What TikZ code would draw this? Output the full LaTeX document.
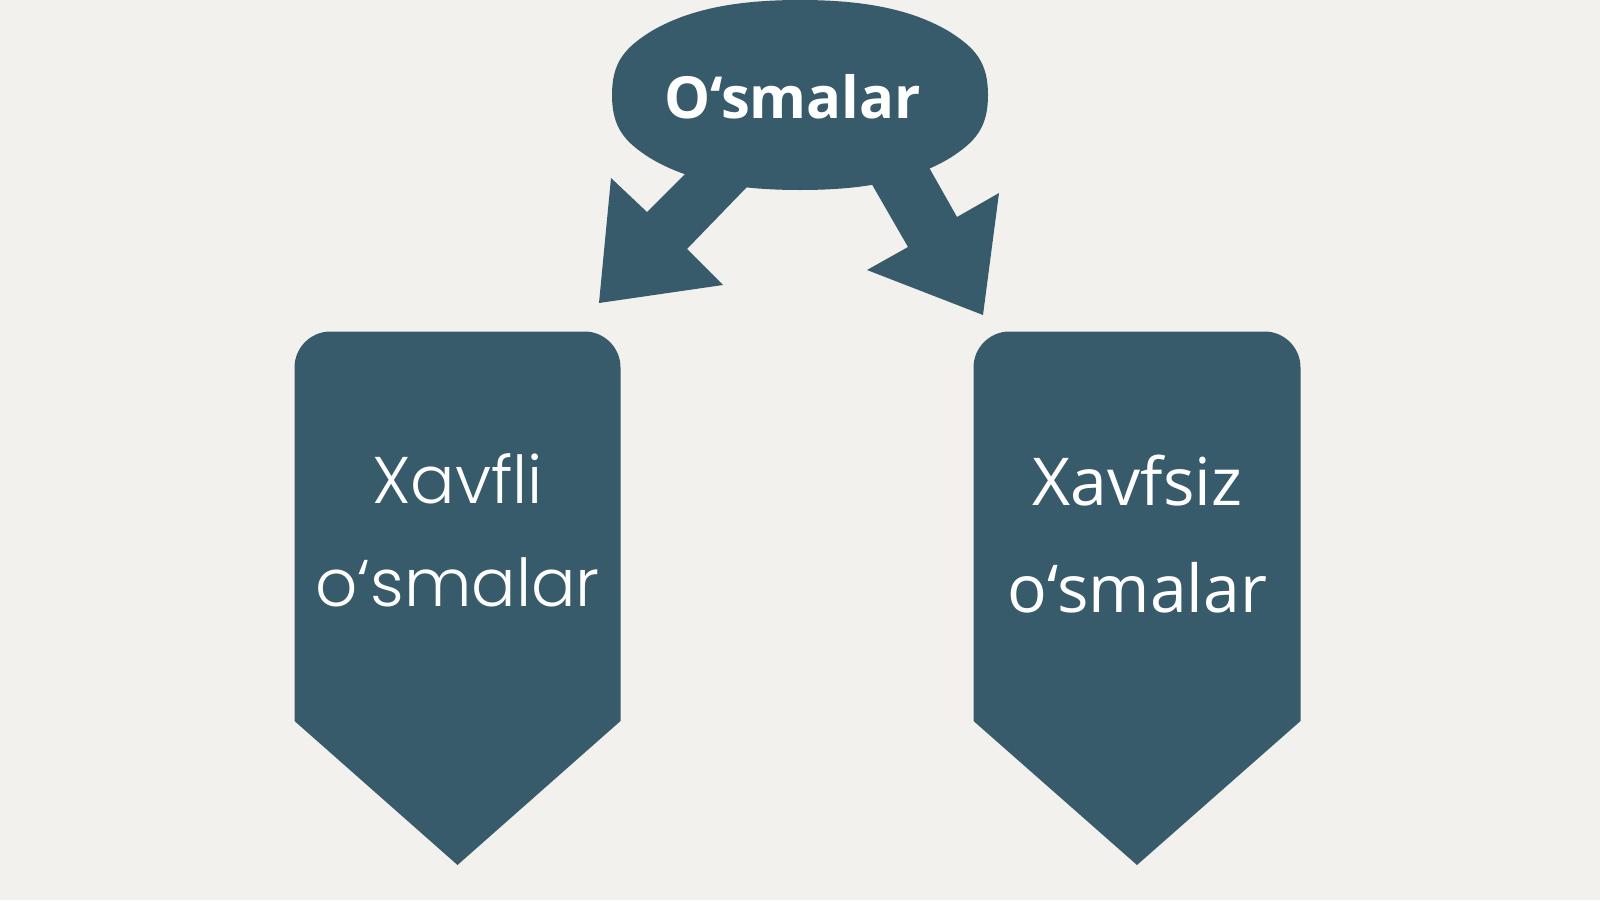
\documentclass[tikz,border=0pt]{standalone}
\usepackage{fontspec}
\setmainfont{Open Sans}
\newfontfamily\popfont{Poppins}[UprightFont=* Light]
\newfontfamily\opfont{Open Sans}
\definecolor{bgcol}{HTML}{F3F1ED}
\definecolor{teal}{HTML}{385B6C}
\tikzset{
  toptext/.style={text=white, inner sep=0pt, anchor=base, font=\fontsize{58}{66}\selectfont\bfseries},
  lefttext/.style={text=white, inner sep=0pt, anchor=base, font=\popfont\fontsize{66}{80}\selectfont},
  righttext/.style={text=white, inner sep=0pt, anchor=base, font=\opfont\fontsize{66}{80}\selectfont}
}
\begin{document}
\begin{tikzpicture}[x=1pt,y=-1pt]
\fill[bgcol] (0,0) rectangle (1600,900);
\useasboundingbox (0,0) rectangle (1600,900);
% top blob
\fill[teal] (612,95) .. controls (612,62) and (625,48) .. (650,32)
  .. controls (690,8) and (740,0) .. (800,0)
  .. controls (860,0) and (910,8) .. (950,32)
  .. controls (975,48) and (988,62) .. (988,95)
  .. controls (988,128) and (975,142) .. (950,158)
  .. controls (910,182) and (860,190) .. (800,190)
  .. controls (740,190) and (690,182) .. (650,158)
  .. controls (625,142) and (612,128) .. (612,95) -- cycle;
% left block arrow
\fill[teal] (717,142) -- (647,212) -- (611,178) -- (599,303) -- (723,285) -- (687,249) -- (775,158) -- cycle;
% right block arrow
\fill[teal] (909,132) -- (957,217) -- (999,193) -- (983,315) -- (867,270) -- (908,247) -- (855,155) -- cycle;
% left box
\fill[teal] (294.5,367.5) arc[start angle=180, end angle=270, radius=36] -- (584.5,331.5)
  arc[start angle=270, end angle=360, radius=36] -- (620.5,721) -- (457.5,865) -- (294.5,721) -- cycle;
% right box
\fill[teal] (973.5,367.5) arc[start angle=180, end angle=270, radius=36] -- (1264.5,331.5)
  arc[start angle=270, end angle=360, radius=36] -- (1300.5,721) -- (1137,865) -- (973.5,721) -- cycle;
% texts
\node[toptext] (top) at (792.5,118) {O‘smalar};
\node[lefttext] (l1) at (457.5,503) {Xavfli};
\node[lefttext] (l2) at (457.5,606) {o‘smalar};
\node[righttext] (r1) at (1137.5,505) {Xavfsiz};
\node[righttext] (r2) at (1137.5,612) {o‘smalar};
\end{tikzpicture}
\end{document}
